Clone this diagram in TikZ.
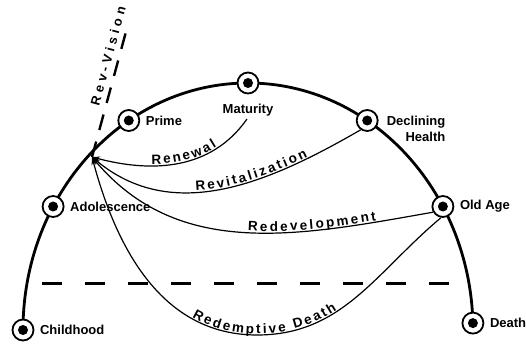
\documentclass[tikz,border=0pt]{standalone}
\usepackage{fontspec}
\setmainfont{Liberation Sans}
\newfontfamily\spacedfont[LetterSpace=30]{Liberation Sans}
\usetikzlibrary{arrows.meta,decorations.text,backgrounds}

\begin{document}
\begin{tikzpicture}[x=1pt,y=1pt,>={Stealth[length=8pt,width=5pt]},
    font=\bfseries\fontsize{13}{16}\selectfont,
    stage/.style={circle,draw,fill=white,line width=1.8pt,minimum size=21pt,inner sep=0pt,
      path picture={\fill[black] (path picture bounding box.center) circle (5pt);}},
    lbl/.style={inner sep=1pt,label distance=4.5pt},
    flow/.style={line width=1.2pt,<-},
    along/.style 2 args={postaction={decorate},decoration={text along path,raise=1.5pt,
      text align={left indent=#1},text={|\bfseries\fontsize{13.5}{15}\selectfont\kern2.4pt|#2}}}]
  \useasboundingbox (0,0) rectangle (526,345);
  % stages of life on the arc
  \node[stage,label={[lbl]right:Childhood}] (child) at (23,15) {};
  \node[stage,label={[lbl]right:Adolescence}] (adol) at (53.1,138.5) {};
  \node[stage,label={[lbl]right:Prime}] (prime) at (128.8,224.5) {};
  \node[stage,label={[lbl,label distance=8.5pt]below:Maturity}] (mat) at (248,262) {};
  \node[stage,label={[lbl,align=right,yshift=-8pt,label distance=7pt]right:{Declining\\Health}}] (decl) at (367.2,224.5) {};
  \node[stage,label={[lbl]right:Old Age}] (old) at (442.9,138.5) {};
  \node[stage,label={[lbl]right:Death}] (death) at (472.9,21.9) {};
  \begin{scope}[on background layer]
    \draw[line width=2.8pt] (child.center) arc[start angle=180,end angle=1.6,x radius=225,y radius=247];
  \end{scope}
  % rev-vision point and the returns to it
  \coordinate (rv) at (92,188);
  \coordinate (rvtop) at (127,317);
  \coordinate (renew) at (247,226);
  \coordinate (low) at (257,10);
  \draw[flow,along={58pt}{Renewal}] (rv) to[out=-15,in=-125] (renew);
  \draw[flow,along={110pt}{Revitalization}] (rv) to[out=-40,in=-150] (decl.235);
  \draw[flow,along={176pt}{Redevelopment}] (rv) to[out=-50,in=-170] (old.210);
  \draw[flow,along={192pt}{Redemptive Death}] (rv) to[out=-75,in=180] (low) to[out=0,in=-140] (old.260);
  \draw[line width=2.4pt,dash pattern=on 16pt off 12pt] (rv) -- (rvtop)
    node[pos=0.76,sloped,above=3pt,inner sep=2pt,font=\spacedfont\bfseries\fontsize{13}{15}\selectfont] (rvtext) {Rev-Vision};
  % threshold line
  \coordinate (thl) at (42,62);
  \coordinate (thr) at (456,62);
  \draw[line width=3pt,dash pattern=on 20pt off 23pt] (thl) -- (thr);
\end{tikzpicture}
\end{document}
